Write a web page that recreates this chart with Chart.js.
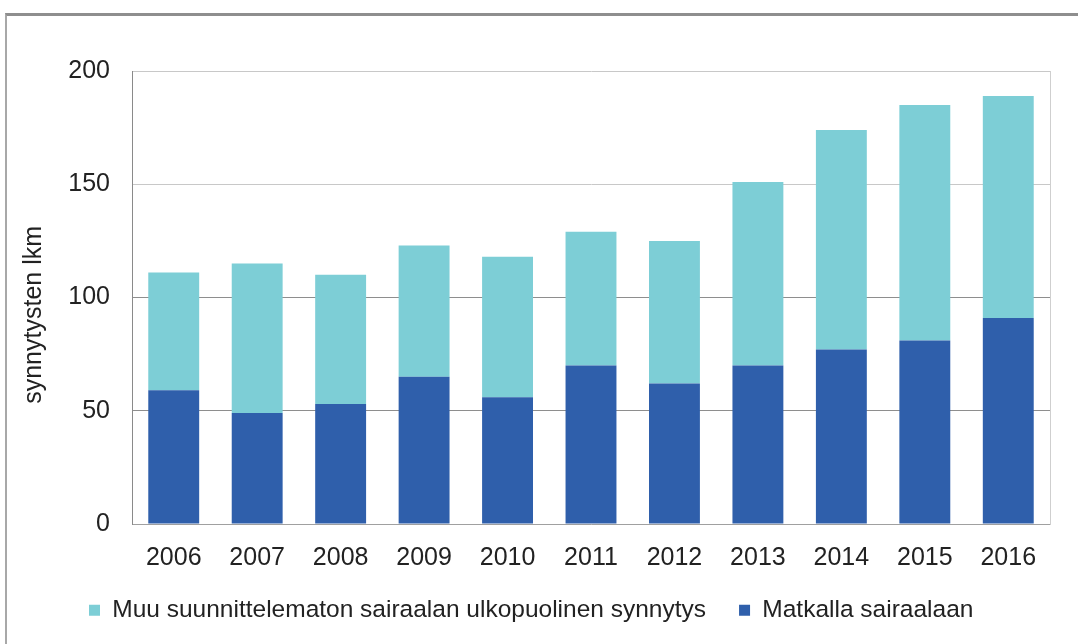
<!DOCTYPE html>
<html>
<head>
<meta charset="utf-8">
<script src="https://cdn.jsdelivr.net/npm/chart.js@4"></script>
<style>
  html, body { margin: 0; padding: 0; background: #fff; }
  #wrap { position: relative; width: 1078px; height: 644px; overflow: hidden; }
  #frame { position: absolute; left: 5px; top: 13px; width: 1100px; height: 700px;
           border-top: 3px solid #8e8e8e; border-left: 2px solid #a8a8a8; }
  canvas { position: absolute; left: 0; top: 0; }
</style>
</head>
<body>
<div id="wrap">
  <div id="frame"></div>
  <canvas id="c" width="1078" height="644"></canvas>
</div>
<script>
const years = ["2006","2007","2008","2009","2010","2011","2012","2013","2014","2015","2016"];
const enRoute = [59, 49, 53, 65, 56, 70, 62, 70, 77, 81, 91];
const otherUnplanned = [52, 66, 57, 58, 62, 59, 63, 81, 97, 104, 98];
const yTicks = [0, 50, 100, 150, 200];
const labelEnRoute = "Matkalla sairaalaan";
const labelOther = "Muu suunnittelematon sairaalan ulkopuolinen synnytys";
const yTitle = "synnytysten lkm     ";

const FONT = "'Liberation Sans', Arial, sans-serif";

const shiftLegend = {
  id: 'shiftLegend',
  beforeDraw(chart) {
    const lg = chart.legend;
    if (lg && !lg._shifted) {
      const dx = 56, dy = -7;
      lg.left += dx; lg.right += dx;
      lg.top += dy; lg.bottom += dy;
      lg._shifted = true;
    }
  },
  afterUpdate(chart) { if (chart.legend) chart.legend._shifted = false; }
};

new Chart(document.getElementById('c'), {
  type: 'bar',
  data: {
    labels: years,
    datasets: [
      { label: labelEnRoute, data: enRoute, backgroundColor: '#2f5fab' },
      { label: labelOther, data: otherUnplanned, backgroundColor: '#7dced6' }
    ]
  },
  options: {
    responsive: false,
    animation: false,
    devicePixelRatio: 1,
    datasets: { bar: { barPercentage: 0.61, categoryPercentage: 1.0 } },
    layout: { padding: { left: 0, right: 28, top: 71, bottom: 4.5 } },
    plugins: {
      tooltip: { enabled: false },
      legend: {
        position: 'bottom',
        align: 'start',
        reverse: true,
        labels: {
          boxWidth: 11, boxHeight: 11, padding: 33,
          color: '#222',
          font: { family: FONT, size: 24.5 }
        }
      }
    },
    scales: {
      x: {
        stacked: true,
        grid: { display: false, drawTicks: false },
        border: { display: true, color: '#a0a0a0', width: 1 },
        ticks: { color: '#222', padding: 19, font: { family: FONT, size: 25 } },
        afterFit(s) { s.height = 48; }
      },
      y: {
        stacked: true,
        min: 0, max: 200,
        afterBuildTicks(s) { s.ticks = yTicks.map(v => ({ value: v })); },
        grid: {
          color: (ctx) => (ctx.tick && (ctx.tick.value === 50 || ctx.tick.value === 100)) ? '#8e8e8e' : '#c8c8c8',
          drawTicks: false
        },
        border: { display: true, color: '#8a8a8a', width: 1 },
        ticks: { color: '#222', padding: 22, font: { family: FONT, size: 25 } },
        title: { display: true, text: yTitle, color: '#222',
                 font: { family: FONT, size: 25 }, padding: { top: 19.5, bottom: 0 } },
        afterFit(s) { s.width = 132; }
      },
      y2: {
        position: 'right',
        min: 0, max: 200,
        grid: { drawOnChartArea: false, drawTicks: false },
        border: { display: true, color: '#cfcfcf', width: 1 },
        ticks: { display: false },
        afterFit(s) { s.width = 0; }
      }
    }
  },
  plugins: [shiftLegend]
});
</script>
</body>
</html>
